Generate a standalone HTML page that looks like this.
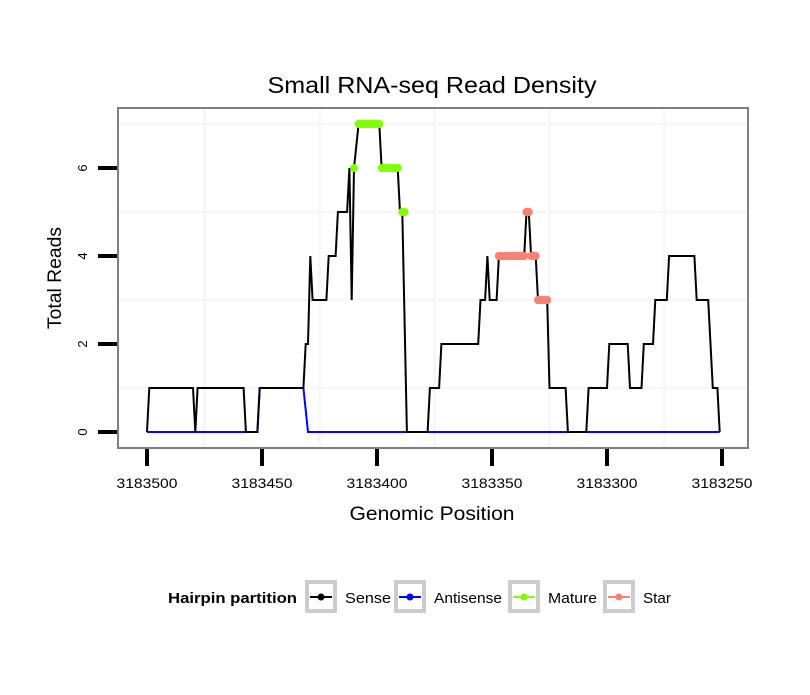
<!DOCTYPE html>
<html><head><meta charset="utf-8"><style>
body{margin:0;background:#fff;}
svg text{font-family:"Liberation Sans",sans-serif;}
</style></head><body>
<svg id="chart" width="810" height="690" viewBox="0 0 810 690" xmlns="http://www.w3.org/2000/svg">
<text x="432" y="93" font-size="23" text-anchor="middle" textLength="329" lengthAdjust="spacingAndGlyphs">Small RNA-seq Read Density</text>
<rect x="118" y="108" width="630" height="340" fill="#fff"/>
<g id="grid"></g>
<g id="series"></g>
<rect x="118" y="108" width="630" height="340" fill="none" stroke="#7f7f7f" stroke-width="2"/>
<g id="axes"></g>
<text x="432" y="520" font-size="19" text-anchor="middle" textLength="165" lengthAdjust="spacingAndGlyphs">Genomic Position</text>
<text transform="translate(61,278) rotate(-90)" font-size="19" text-anchor="middle" textLength="102" lengthAdjust="spacingAndGlyphs">Total Reads</text>
<g>
<text x="168" y="603" font-size="15" font-weight="bold" textLength="129" lengthAdjust="spacingAndGlyphs">Hairpin partition</text>
<g><rect x="307" y="582" width="28" height="29" fill="#fff" stroke="#ccc" stroke-width="4"/><line x1="310" y1="597" x2="332" y2="597" stroke="#000" stroke-width="2"/><circle cx="321" cy="597" r="3.5" fill="#000"/><text x="345" y="603" font-size="15" textLength="46" lengthAdjust="spacingAndGlyphs">Sense</text></g>
<g><rect x="396" y="582" width="28" height="29" fill="#fff" stroke="#ccc" stroke-width="4"/><line x1="399" y1="597" x2="421" y2="597" stroke="#0000ff" stroke-width="2"/><circle cx="410" cy="597" r="3.5" fill="#0000ff"/><text x="434" y="603" font-size="15" textLength="68" lengthAdjust="spacingAndGlyphs">Antisense</text></g>
<g><rect x="510" y="582" width="28" height="29" fill="#fff" stroke="#ccc" stroke-width="4"/><line x1="513" y1="597" x2="535" y2="597" stroke="#7fff00" stroke-width="2"/><circle cx="524" cy="597" r="3.5" fill="#7fff00"/><text x="548" y="603" font-size="15" textLength="49" lengthAdjust="spacingAndGlyphs">Mature</text></g>
<g><rect x="605" y="582" width="28" height="29" fill="#fff" stroke="#ccc" stroke-width="4"/><line x1="608" y1="597" x2="630" y2="597" stroke="#fa8072" stroke-width="2"/><circle cx="619" cy="597" r="3.5" fill="#fa8072"/><text x="643" y="603" font-size="15" textLength="28" lengthAdjust="spacingAndGlyphs">Star</text></g>
</g>
</svg>
<script>
const BASE = 3183500;
const senseOffsets = [0,1,20,21,22,42,43,48,49,68,69,70,71,72,78,79,82,83,87,88,89,90,92,101,102,109,110,111,113,122,123,127,128,144,145,147,148,149,152,153,164,165,166,167,169,170,174,175,182,183,191,192,200,201,209,210,215,216,220,221,226,227,238,239,244,246,248,249];
const senseValues = [0,1,1,0,1,1,0,0,1,1,2,2,4,3,3,4,4,5,5,6,3,6,7,7,6,6,5,5,0,0,1,1,2,2,3,3,4,3,3,4,4,5,5,4,4,3,3,1,1,0,0,1,1,2,2,1,1,2,2,3,3,4,4,3,3,1,1,0];
const antisenseOffsets = [0,48,49,68,70,249];
const antisenseValues = [0,0,1,1,0,0];
const matureOffsets = [90,92,93,94,95,96,97,98,99,100,101,102,103,104,105,106,107,108,109,111,112];
const matureValues = [6,7,7,7,7,7,7,7,7,7,7,6,6,6,6,6,6,6,6,5,5];
const starOffsets = [153,154,155,156,157,158,159,160,161,162,163,164,165,166,167,168,169,170,171,172,173,174];
const starValues = [4,4,4,4,4,4,4,4,4,4,4,4,5,5,4,4,4,3,3,3,3,3];
const xTicks = [3183500,3183450,3183400,3183350,3183300,3183250];
const xTickLabels = ["3183500","3183450","3183400","3183350","3183300","3183250"];
const yTicks = [0,2,4,6];
const yTickLabels = ["0","2","4","6"];
const xGrid = [3183475,3183425,3183375,3183325,3183275];
const yGrid = [1,3,5,7];

const X = pos => 147 + (BASE - pos) * 2.3;
const Y = v => 432 - 44 * v;
const NS = "http://www.w3.org/2000/svg";
function mk(tag, attrs, parent){const e=document.createElementNS(NS,tag);for(const k in attrs)e.setAttribute(k,attrs[k]);parent.appendChild(e);return e;}
const grid=document.getElementById('grid'), series=document.getElementById('series'), axes=document.getElementById('axes');
xGrid.forEach(g=>{const l=mk('line',{x1:X(g),x2:X(g),y1:109,y2:447,stroke:'#f7f7f7','stroke-width':3},grid);

});
yGrid.forEach(g=>{const l=mk('line',{x1:119,x2:747,y1:Y(g),y2:Y(g),stroke:'#f7f7f7','stroke-width':3},grid);

});
function line(offs, vals, color, name){
  const pts=offs.map((o,i)=>X(BASE-o).toFixed(1)+','+Y(vals[i]).toFixed(1)).join(' ');
  const p=mk('polyline',{points:pts,fill:'none',stroke:color,'stroke-width':2,'stroke-linejoin':'miter'},series);
  
  
}
function dots(offs, vals, color, name){
  offs.forEach((o,i)=>{const c=mk('circle',{cx:X(BASE-o),cy:Y(vals[i]),r:4,fill:color},series);
  
  });
}
line(antisenseOffsets, antisenseValues, '#0000ff', 'antisense-line');
line(senseOffsets, senseValues, '#000', 'sense-line');
dots(matureOffsets, matureValues, '#7fff00', 'mature-point');
dots(starOffsets, starValues, '#fa8072', 'star-point');
xTicks.forEach((t,i)=>{
  const l=mk('line',{x1:X(t),x2:X(t),y1:449,y2:466,stroke:'#000','stroke-width':4},axes);
  
  
  const tx=mk('text',{x:X(t),y:488,'font-size':14,'text-anchor':'middle',textLength:61,lengthAdjust:'spacingAndGlyphs'},axes);
  tx.textContent=xTickLabels[i];
  
  
});
yTicks.forEach((t,i)=>{
  const l=mk('line',{x1:98,x2:117,y1:Y(t),y2:Y(t),stroke:'#000','stroke-width':4},axes);
  
  
  const tx=mk('text',{transform:`translate(87,${Y(t)}) rotate(-90)`,'font-size':13,'text-anchor':'middle'},axes);
  tx.textContent=yTickLabels[i];
  
  
});
</script>
</body></html>
